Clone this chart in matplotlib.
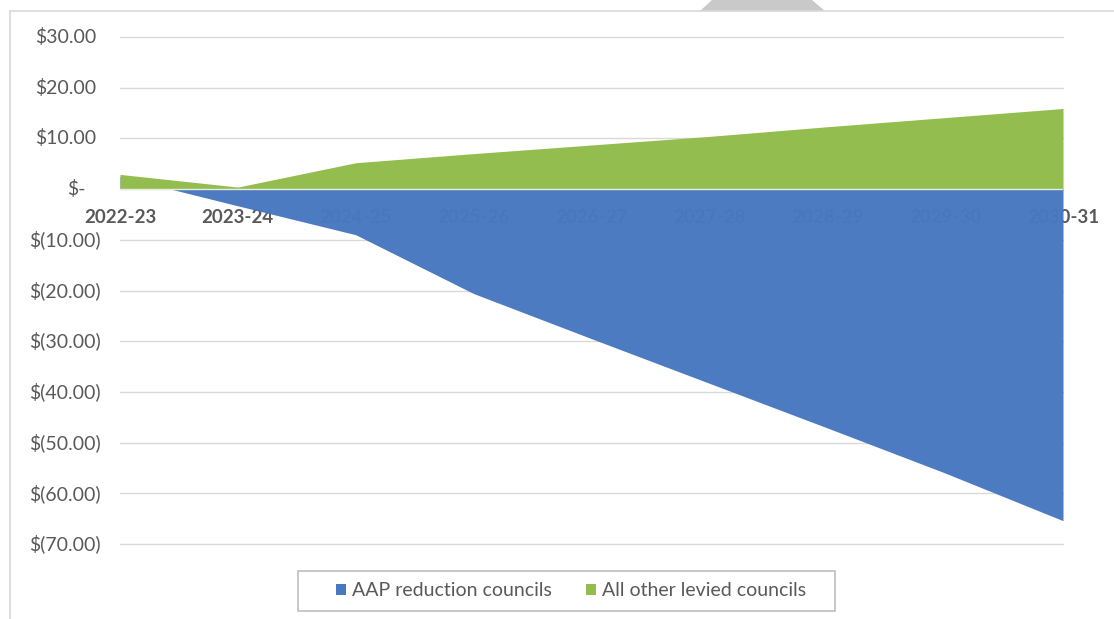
import numpy as np
import matplotlib
matplotlib.use("Agg")
import matplotlib.pyplot as plt
from matplotlib.lines import Line2D
from matplotlib.patches import Polygon, Rectangle, Patch

# Financial years on the category axis
years = ["2022-23", "2023-24", "2024-25", "2025-26", "2026-27",
         "2027-28", "2028-29", "2029-30", "2030-31"]

# Change per household ($) for each group of councils
aap_reduction = [2.5, -3.3, -9.0, -20.6, -29.5, -38.3, -47.1, -56.0, -65.4]
other_levied = [2.9, 0.4, 5.2, 7.0, 8.7, 10.4, 12.3, 14.1, 15.9]

y_ticks = [30, 20, 10, 0, -10, -20, -30, -40, -50, -60, -70]
y_tick_labels = ["$30.00", "$20.00", "$10.00", "$-", "$(10.00)", "$(20.00)",
                 "$(30.00)", "$(40.00)", "$(50.00)", "$(60.00)", "$(70.00)"]

series_names = ["AAP reduction councils", "All other levied councils"]

BLUE = "#4878C0"
GREEN = "#93BD4E"
GRID = "#d9d9d9"
TEXT = "#595959"

plt.rcParams["font.family"] = ["Lato", "DejaVu Sans"]

W, H = 1114, 619
fig = plt.figure(figsize=(W / 100, H / 100), dpi=100)


def fx(px):
    return px / W


def fy(py):
    return 1 - py / H


# Outer chart frame (top and left edges)
fig.add_artist(Line2D([fx(10), 1.0], [fy(11), fy(11)], color=GRID, lw=1.2,
                      transform=fig.transFigure))
fig.add_artist(Line2D([fx(10), fx(10)], [fy(11), 0.0], color=GRID, lw=1.2,
                      transform=fig.transFigure))
# Grey tab on the top edge
fig.add_artist(Polygon([(fx(700), fy(11)), (fx(712), 1.0), (fx(812), 1.0),
                        (fx(825), fy(11))], closed=True, facecolor="#c9c9c9",
                       edgecolor="none", transform=fig.transFigure))

ax = fig.add_axes([fx(120), fy(544), fx(1063) - fx(120), fy(37) - fy(544)])
ax.set_xlim(0, len(years) - 1)
ax.set_ylim(-70, 30)
ax.axis("off")

x = np.arange(len(years))

for t in y_ticks:
    ax.plot([0, len(years) - 1], [t, t], color=GRID, lw=1, zorder=0,
            clip_on=False)

# Category labels sit on the zero line, underneath the filled areas
for xi, lab in zip(x, years):
    ax.text(xi, -5.7, lab, ha="center", va="center", fontsize=13.5,
            fontweight="bold", color=TEXT, zorder=1, clip_on=False)

ax.fill_between(x, 0, aap_reduction, color=BLUE, alpha=0.978, lw=0, zorder=2)
ax.fill_between(x, 0, other_levied, color=GREEN, lw=0, zorder=2.1)
ax.axhline(0, color="#e6eddc", lw=1, zorder=3)

# Accounting-style value labels
for t, lab in zip(y_ticks, y_tick_labels):
    if t > 0:
        off = -24
    elif t < 0:
        off = -19
    else:
        off = -34
    ax.annotate(lab, xy=(0, t), xycoords=("axes fraction", "data"),
                xytext=(off, 0), textcoords="offset pixels", ha="right",
                va="center", fontsize=14, color=TEXT, annotation_clip=False)

# Legend
fig.add_artist(Rectangle((fx(298), fy(611)), fx(835) - fx(298), fy(571) - fy(611),
                         facecolor="white", edgecolor="#bfbfbf", lw=1.2,
                         transform=fig.transFigure))
handles = [Patch(facecolor=BLUE, edgecolor="none"),
           Patch(facecolor=GREEN, edgecolor="none")]
fig.legend(handles, series_names, loc="center",
           bbox_to_anchor=(fx(571), fy(591)), ncol=2, frameon=False,
           fontsize=14, handlelength=0.5, handleheight=0.5,
           handletextpad=0.3, columnspacing=1.8, labelcolor=TEXT)

fig.savefig("out.png", dpi=100)
